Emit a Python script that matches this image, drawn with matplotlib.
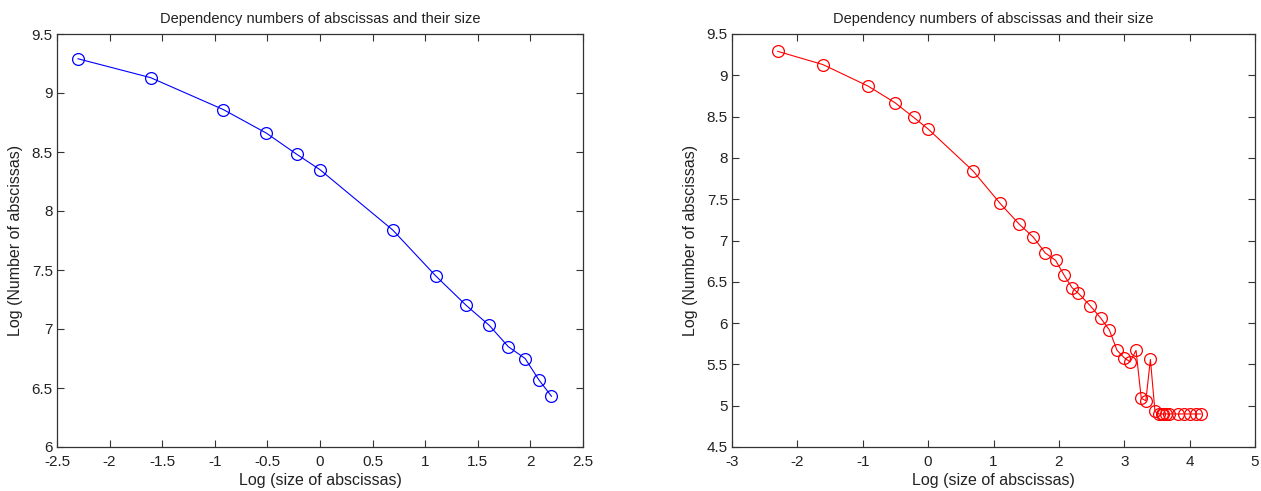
import numpy as np
import matplotlib.pyplot as plt

# ======================================
# Data
# ======================================

x_left = [-2.30, -1.61, -0.92, -0.51, -0.22, 0.00, 0.69, 1.10, 1.39,
          1.61, 1.79, 1.95, 2.08, 2.20]
y_left = [9.29, 9.13, 8.86, 8.66, 8.48, 8.35, 7.84, 7.45, 7.20,
          7.03, 6.85, 6.75, 6.57, 6.43]

x_right = [-2.30, -1.61, -0.92, -0.51, -0.22, 0.00, 0.69, 1.10, 1.39,
           1.61, 1.79, 1.95, 2.08, 2.20, 2.30, 2.48, 2.64, 2.77, 2.89,
           3.00, 3.09, 3.18, 3.26, 3.33, 3.40, 3.47, 3.53, 3.57, 3.60,
           3.64, 3.68, 3.82, 3.91, 4.00, 4.09, 4.17]
y_right = [9.29, 9.13, 8.87, 8.67, 8.49, 8.35, 7.84, 7.45, 7.20,
           7.04, 6.85, 6.76, 6.58, 6.43, 6.36, 6.21, 6.06, 5.92, 5.67,
           5.58, 5.53, 5.67, 5.09, 5.06, 5.56, 4.93, 4.90, 4.90, 4.90,
           4.90, 4.90, 4.90, 4.90, 4.90, 4.90, 4.90]

TITLE = "Dependency numbers of abscissas and their size"
XLABEL = "Log (size of abscissas)"
YLABEL = "Log (Number of abscissas)"

# ======================================
# Style
# ======================================

plt.rcParams["font.family"] = ["Liberation Sans", "DejaVu Sans"]
plt.rcParams["font.size"] = 11
TXT = "#222222"

fig = plt.figure(figsize=(12.61, 4.91), dpi=100)

ax1 = fig.add_axes([57 / 1261, 1 - 447 / 491, 526 / 1261, 413 / 491])
ax2 = fig.add_axes([732 / 1261, 1 - 447 / 491, 523 / 1261, 413 / 491])


def style(ax, xlim, ylim, xticks, yticks):
    ax.set_xlim(*xlim)
    ax.set_ylim(*ylim)
    ax.set_xticks(xticks)
    ax.set_yticks(yticks)
    ax.set_xticklabels([f"{t:g}" for t in xticks])
    ax.set_yticklabels([f"{t:g}" for t in yticks])
    ax.tick_params(direction="in", length=5, width=0.8, top=True, right=True,
                   colors="#333333", labelcolor=TXT, labelsize=11)
    ax.tick_params(axis="x", pad=6)
    ax.tick_params(axis="y", pad=3)
    for s in ax.spines.values():
        s.set_color("#333333")
        s.set_linewidth(0.9)
    ax.set_title(TITLE, fontsize=10.5, color=TXT, pad=8)
    ax.set_xlabel(XLABEL, fontsize=11.5, color=TXT, labelpad=3)
    ax.set_ylabel(YLABEL, fontsize=11.5, color=TXT, labelpad=6)


ax1.plot(x_left, y_left, "-o", color="blue", lw=0.8, mfc="none",
         mec="blue", ms=8.5, mew=0.9)
style(ax1, (-2.5, 2.5), (6, 9.5), np.arange(-2.5, 2.51, 0.5),
      np.arange(6, 9.51, 0.5))

ax2.plot(x_right, y_right, "-o", color="red", lw=0.8, mfc="none",
         mec="red", ms=8.5, mew=0.9)
style(ax2, (-3, 5), (4.5, 9.5), np.arange(-3, 5.1, 1),
      np.arange(4.5, 9.51, 0.5))

fig.savefig("out.png", dpi=100)
plt.close(fig)
